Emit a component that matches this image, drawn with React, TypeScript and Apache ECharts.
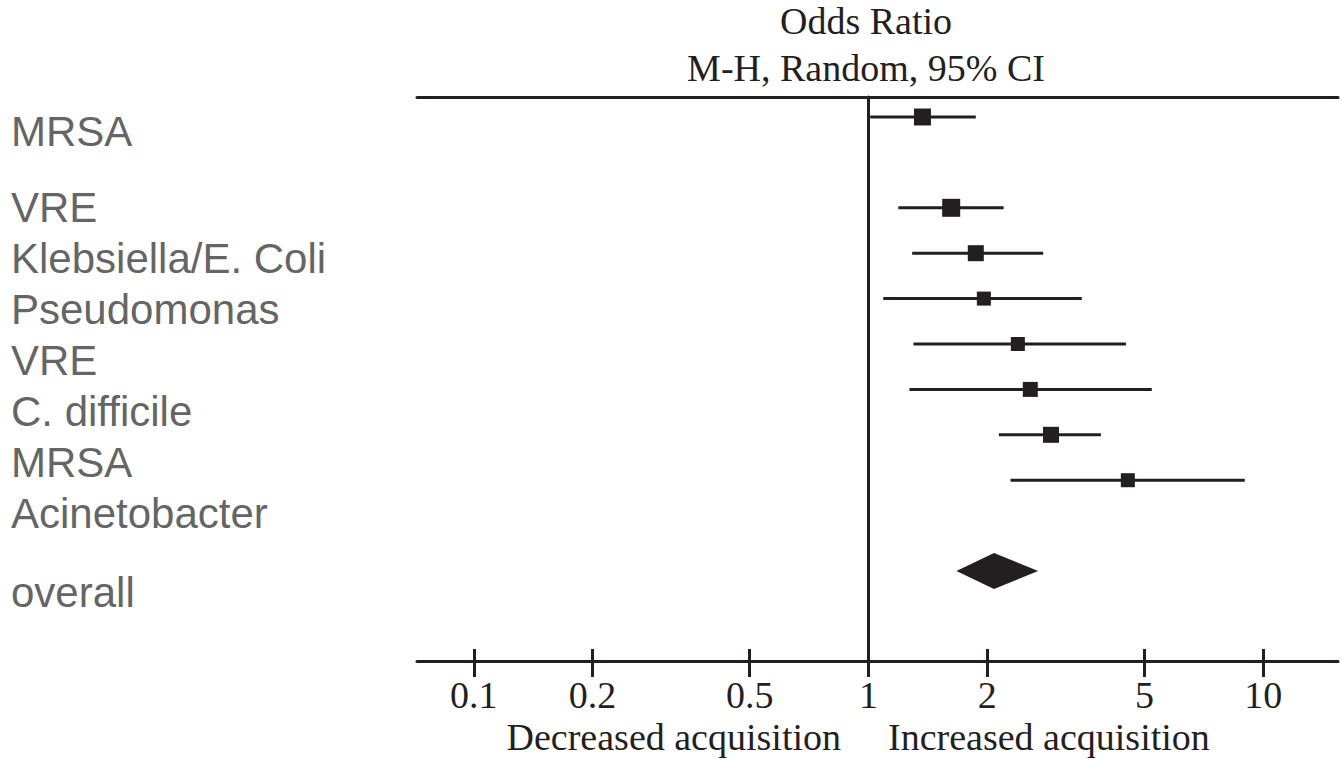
import React, { useEffect, useRef } from 'react';
import * as echarts from 'echarts';

// ---- data ----
const categories = ['MRSA', 'VRE', 'Klebsiella/E. Coli', 'Pseudomonas', 'VRE', 'C. difficile', 'MRSA', 'Acinetobacter'];
const oddsRatio = [1.37, 1.62, 1.87, 1.96, 2.39, 2.57, 2.9, 4.54];
const ciLower = [1.01, 1.19, 1.29, 1.09, 1.3, 1.27, 2.14, 2.29];
const ciUpper = [1.87, 2.2, 2.77, 3.47, 4.49, 5.22, 3.88, 8.98];
const weights = [13.6, 15.3, 12.1, 9.3, 9.3, 10.6, 12.1, 9.3];
const studyRows = [0, 2, 3, 4, 5, 6, 7, 8];

const overallLabel = 'overall';
const overallOR = 2.08;
const overallLower = 1.67;
const overallUpper = 2.69;
const overallRow = 10;

const labelRows = [0, 1.5, 2.5, 3.5, 4.5, 5.5, 6.5, 7.5, 9.05];
const tickValues = [0.1, 0.2, 0.5, 1, 2, 5, 10];
const axisTitle = ['Odds Ratio', 'M-H, Random, 95% CI'];
const directionLabels = ['Decreased acquisition', 'Increased acquisition'];

export default function App() {
  const ref = useRef<HTMLDivElement>(null);

  useEffect(() => {
    document.body.style.margin = '0';
    const chart = echarts.init(ref.current as HTMLDivElement, null, { renderer: 'svg' });
    const INK = '#231f20';
    const SERIF = '"Liberation Serif", "Times New Roman", serif';
    const SANS = '"Liberation Sans", Arial, sans-serif';
    const lg = (v: number) => Math.log10(v);
    const xMin = -1.1439;
    const xMax = 1.1895;
    const ticks = tickValues.map(lg);
    const fmt = (v: number) => String(parseFloat(Math.pow(10, v).toPrecision(4)));
    const lineStyle = { color: INK, width: 3 };

    const forestData = categories.map((c, i) => ({
      name: c,
      value: [lg(ciLower[i]), lg(oddsRatio[i]), lg(ciUpper[i]), studyRows[i], weights[i]],
    }));
    const labelData = [...categories, overallLabel].map((n, i) => ({ name: n, value: [0, labelRows[i]] }));

    const option: any = {
      animation: false,
      grid: [
        { left: 417, right: 4, top: 97, bottom: 100, containLabel: false, outerBoundsMode: 'none' },
        { left: 11, width: 380, top: 97, bottom: 100, containLabel: false, outerBoundsMode: 'none' },
      ],
      xAxis: [
        {
          gridIndex: 0, type: 'value', min: xMin, max: xMax, position: 'bottom',
          axisLine: { show: true, onZero: false, lineStyle },
          axisTick: { show: true, customValues: ticks, length: 16, inside: false, lineStyle },
          axisLabel: { show: true, customValues: ticks, formatter: fmt, margin: 15, fontFamily: SERIF, fontSize: 38, color: INK },
          splitLine: { show: false },
        },
        {
          gridIndex: 0, type: 'value', min: xMin, max: xMax, position: 'bottom',
          axisLine: { show: false, onZero: false },
          axisTick: { show: true, customValues: ticks, length: 12, inside: true, lineStyle },
          axisLabel: { show: false },
          splitLine: { show: false },
        },
        {
          gridIndex: 0, type: 'value', min: xMin, max: xMax, position: 'top',
          axisLine: { show: true, onZero: false, lineStyle },
          axisTick: { show: false },
          axisLabel: { show: false },
          splitLine: { show: false },
        },
        { gridIndex: 1, type: 'value', min: 0, max: 1, show: false },
      ],
      yAxis: [
        {
          gridIndex: 0, type: 'value', inverse: true, min: -0.4405, max: 11.982,
          axisLine: { show: true, onZero: true, onZeroAxisIndex: 0, lineStyle },
          axisTick: { show: false },
          axisLabel: { show: false },
          splitLine: { show: false },
        },
        { gridIndex: 1, type: 'value', inverse: true, min: -0.667, max: 10.392, show: false },
      ],
      series: [
        {
          type: 'custom',
          xAxisIndex: 0,
          yAxisIndex: 0,
          encode: { x: [0, 1, 2], y: 3 },
          data: forestData,
          renderItem: (params: any, api: any) => {
            const row = api.value(3);
            const pLo = api.coord([api.value(0), row]);
            const pEst = api.coord([api.value(1), row]);
            const pHi = api.coord([api.value(2), row]);
            const s = Math.sqrt(api.value(4)) * 4.6;
            return {
              type: 'group',
              children: [
                { type: 'line', shape: { x1: pLo[0], y1: pLo[1], x2: pHi[0], y2: pHi[1] }, style: { stroke: INK, lineWidth: 3 } },
                { type: 'rect', shape: { x: pEst[0] - s / 2, y: pEst[1] - s / 2, width: s, height: s }, style: { fill: INK } },
              ],
            };
          },
        },
        {
          type: 'custom',
          xAxisIndex: 0,
          yAxisIndex: 0,
          encode: { x: [0, 1, 2], y: 3 },
          data: [{ name: overallLabel, value: [lg(overallLower), lg(overallOR), lg(overallUpper), overallRow] }],
          renderItem: (params: any, api: any) => {
            const row = api.value(3);
            const pLo = api.coord([api.value(0), row]);
            const pEst = api.coord([api.value(1), row]);
            const pHi = api.coord([api.value(2), row]);
            const h = 18;
            return {
              type: 'polygon',
              shape: { points: [[pLo[0], pLo[1]], [pEst[0], pEst[1] - h], [pHi[0], pHi[1]], [pEst[0], pEst[1] + h]] },
              style: { fill: INK },
            };
          },
        },
        {
          type: 'scatter',
          xAxisIndex: 3,
          yAxisIndex: 1,
          symbolSize: 0,
          itemStyle: { color: 'transparent' },
          data: labelData,
          label: {
            show: true, position: 'right', distance: 0, formatter: '{b}',
            fontFamily: SANS, fontSize: 42, color: '#3a3a3a',
          },
        },
      ],
      graphic: [
        { type: 'text', x: 866, y: 21, style: { text: axisTitle[0], fill: INK, fontFamily: SERIF, fontSize: 38, align: 'center', verticalAlign: 'middle' } },
        { type: 'text', x: 866, y: 68, style: { text: axisTitle[1], fill: INK, fontFamily: SERIF, fontSize: 38, align: 'center', verticalAlign: 'middle' } },
        { type: 'text', x: 841, y: 737, style: { text: directionLabels[0], fill: INK, fontFamily: SERIF, fontSize: 38, align: 'right', verticalAlign: 'middle' } },
        { type: 'text', x: 888, y: 737, style: { text: directionLabels[1], fill: INK, fontFamily: SERIF, fontSize: 38, align: 'left', verticalAlign: 'middle' } },
      ],
    };

    chart.setOption(option);
    return () => chart.dispose();
  }, []);

  return <div ref={ref} style={{ width: 1342, height: 761 }} />;
}
